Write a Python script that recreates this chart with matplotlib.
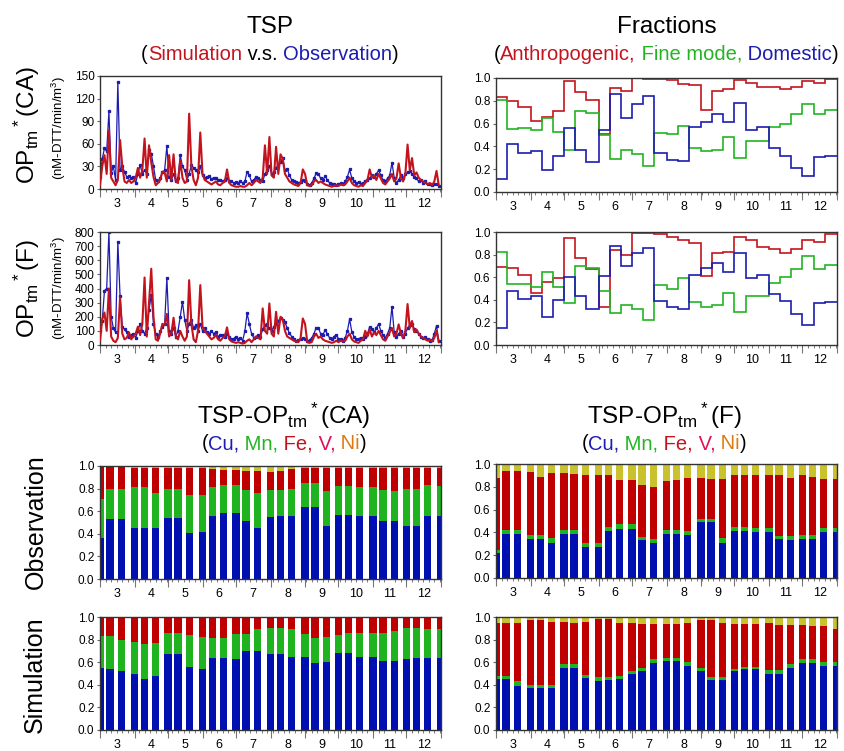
import numpy as np
import matplotlib
matplotlib.use("Agg")
import matplotlib.pyplot as plt

plt.rcParams["font.family"] = ["Liberation Sans", "DejaVu Sans"]
plt.rcParams["mathtext.fontset"] = "custom"
plt.rcParams["mathtext.rm"] = "Liberation Sans"
plt.rcParams["mathtext.it"] = "Liberation Sans:italic"
plt.rcParams["mathtext.bf"] = "Liberation Sans:bold"

# months March..December, days counted from 1 March
month_days = [31, 30, 31, 30, 31, 31, 30, 31, 30, 31]
month_labels = ["3", "4", "5", "6", "7", "8", "9", "10", "11", "12"]

# daily series sampled every 2 days (day 0 .. 304)
ca_obs = [16, 40, 54, 50, 103, 21, 30, 12, 142, 25,
          30, 23, 16, 17, 14, 16, 8, 20, 32, 20,
          25, 20, 52, 47, 30, 12, 10, 15, 22, 25,
          57, 16, 12, 20, 10, 15, 45, 30, 25, 12,
          20, 32, 28, 25, 22, 30, 18, 15, 16, 17,
          13, 15, 14, 12, 12, 10, 12, 14, 10, 10,
          8, 9, 8, 10, 8, 10, 23, 18, 10, 12,
          16, 14, 12, 10, 20, 25, 30, 20, 22, 28,
          32, 36, 41, 25, 27, 18, 12, 10, 9, 8,
          9, 12, 10, 6, 5, 8, 14, 21, 20, 14,
          12, 17, 12, 8, 6, 7, 5, 6, 8, 7,
          10, 16, 26, 14, 10, 8, 9, 7, 8, 10,
          12, 14, 18, 16, 20, 25, 18, 12, 10, 14,
          18, 35, 15, 8, 12, 18, 14, 20, 22, 24,
          20, 16, 14, 10, 12, 8, 10, 7, 6, 5,
          6, 7, 4]
ca_sim = [5, 30, 45, 20, 78, 15, 10, 5, 12, 65,
          30, 10, 8, 12, 8, 10, 15, 28, 15, 25,
          67, 15, 58, 35, 16, 5, 8, 12, 23, 22,
          10, 45, 12, 46, 10, 8, 38, 15, 8, 10,
          100, 30, 12, 5, 15, 75, 20, 12, 10, 8,
          6, 8, 10, 6, 5, 8, 10, 26, 8, 5,
          4, 3, 3, 4, 3, 3, 5, 8, 5, 8,
          12, 10, 8, 15, 58, 20, 69, 18, 15, 56,
          20, 46, 40, 20, 15, 10, 8, 6, 5, 4,
          8, 26, 20, 5, 4, 5, 10, 12, 8, 10,
          8, 6, 5, 4, 3, 4, 5, 4, 6, 5,
          6, 10, 15, 8, 5, 4, 3, 5, 4, 8,
          12, 26, 15, 18, 12, 20, 14, 8, 6, 10,
          14, 20, 10, 14, 34, 15, 10, 20, 59, 25,
          41, 18, 22, 15, 12, 10, 8, 6, 8, 5,
          10, 24, 5]
f_obs = [100, 170, 385, 400, 800, 200, 120, 90, 730, 345,
         130, 110, 90, 60, 70, 80, 50, 100, 150, 100,
         80, 120, 250, 353, 150, 80, 60, 100, 130, 150,
         475, 100, 80, 120, 60, 100, 200, 306, 180, 100,
         150, 180, 120, 140, 100, 150, 100, 120, 90, 80,
         100, 80, 90, 60, 70, 70, 60, 80, 55, 40,
         45, 60, 40, 50, 30, 100, 224, 150, 80, 50,
         60, 70, 60, 110, 140, 150, 120, 100, 130, 150,
         170, 193, 180, 160, 120, 83, 60, 40, 30, 35,
         40, 50, 40, 28, 35, 50, 80, 123, 120, 80,
         70, 106, 80, 50, 40, 60, 71, 45, 40, 30,
         50, 100, 184, 90, 60, 40, 45, 50, 40, 60,
         80, 130, 110, 90, 120, 149, 100, 70, 50, 80,
         120, 271, 90, 60, 80, 100, 60, 80, 120, 140,
         150, 110, 100, 80, 60, 50, 60, 40, 30, 35,
         80, 137, 30]
f_sim = [30, 180, 230, 100, 400, 60, 30, 20, 50, 336,
         80, 40, 50, 90, 40, 60, 80, 130, 70, 150,
         478, 60, 300, 540, 200, 40, 30, 80, 150, 140,
         220, 60, 80, 193, 60, 40, 100, 60, 30, 60,
         459, 150, 40, 20, 100, 424, 130, 100, 80, 60,
         40, 50, 70, 40, 30, 50, 60, 125, 40, 25,
         20, 15, 20, 15, 10, 15, 30, 40, 20, 40,
         60, 50, 40, 259, 100, 80, 294, 80, 60, 235,
         80, 200, 180, 100, 60, 50, 40, 30, 25, 20,
         50, 188, 150, 20, 15, 20, 60, 80, 50, 60,
         40, 30, 25, 20, 15, 20, 30, 20, 30, 25,
         30, 60, 80, 40, 25, 20, 15, 30, 40, 100,
         60, 110, 60, 90, 70, 100, 70, 40, 30, 60,
         90, 120, 60, 80, 146, 80, 50, 100, 290, 120,
         170, 90, 110, 80, 60, 50, 40, 30, 40, 25,
         50, 100, 20]

# ten-day fractions (30 periods)
ca_anthro = [0.83, 0.80, 0.75, 0.62, 0.66, 0.71, 0.97, 0.88, 0.81, 0.51,
             0.91, 0.89, 1.00, 0.99, 0.99, 0.98, 0.95, 0.94, 0.72, 0.89,
             0.90, 0.98, 0.96, 0.92, 0.92, 0.90, 0.92, 0.97, 0.96, 0.99]
ca_fine = [0.81, 0.55, 0.56, 0.54, 0.65, 0.53, 0.37, 0.71, 0.69, 0.50,
           0.29, 0.37, 0.33, 0.23, 0.52, 0.51, 0.58, 0.39, 0.36, 0.37,
           0.48, 0.30, 0.45, 0.45, 0.57, 0.60, 0.68, 0.77, 0.68, 0.72]
ca_domestic = [0.11, 0.42, 0.34, 0.36, 0.19, 0.32, 0.56, 0.37, 0.26, 0.54,
               0.86, 0.65, 0.77, 0.84, 0.34, 0.28, 0.27, 0.57, 0.61, 0.68,
               0.61, 0.78, 0.54, 0.57, 0.39, 0.32, 0.21, 0.14, 0.31, 0.32]
f_anthro = [0.69, 0.68, 0.62, 0.46, 0.56, 0.59, 0.95, 0.77, 0.67, 0.34,
            0.84, 0.80, 0.99, 0.99, 0.98, 0.96, 0.93, 0.90, 0.61, 0.81,
            0.82, 0.96, 0.93, 0.87, 0.85, 0.81, 0.85, 0.93, 0.91, 0.98]
f_fine = [0.82, 0.54, 0.54, 0.51, 0.65, 0.51, 0.37, 0.70, 0.68, 0.48,
          0.28, 0.35, 0.32, 0.22, 0.53, 0.50, 0.59, 0.38, 0.34, 0.35,
          0.46, 0.29, 0.43, 0.43, 0.55, 0.60, 0.67, 0.79, 0.67, 0.71]
f_domestic = [0.15, 0.48, 0.41, 0.43, 0.25, 0.40, 0.60, 0.43, 0.32, 0.61,
              0.88, 0.70, 0.81, 0.86, 0.39, 0.34, 0.32, 0.62, 0.68, 0.73,
              0.65, 0.81, 0.59, 0.62, 0.45, 0.39, 0.27, 0.18, 0.37, 0.38]

# metal contributions, cumulative tops (Cu, Cu+Mn, Cu+Mn+Fe), 31 bars
obs_ca_cu = [0.36, 0.53, 0.53, 0.45, 0.45, 0.45, 0.54, 0.54, 0.41, 0.42, 0.56,
             0.58, 0.58, 0.51, 0.45, 0.55, 0.56, 0.56, 0.635, 0.635, 0.47,
             0.57, 0.57, 0.56, 0.56, 0.51, 0.51, 0.47, 0.47, 0.56, 0.56]
obs_ca_mn = [0.71, 0.80, 0.80, 0.81, 0.81, 0.76, 0.80, 0.80, 0.74, 0.74, 0.81,
             0.83, 0.83, 0.79, 0.76, 0.79, 0.79, 0.80, 0.85, 0.85, 0.78,
             0.82, 0.82, 0.81, 0.81, 0.79, 0.78, 0.80, 0.80, 0.83, 0.82]
obs_ca_fe = [0.99, 0.99, 0.99, 0.985, 0.985, 0.985, 0.985, 0.985, 0.98, 0.98, 0.975,
             0.965, 0.965, 0.96, 0.955, 0.95, 0.955, 0.975, 0.985, 0.985, 0.98,
             0.985, 0.985, 0.985, 0.985, 0.985, 0.985, 0.985, 0.985, 0.985, 0.985]
sim_ca_cu = [0.55, 0.54, 0.52, 0.50, 0.45, 0.48, 0.675, 0.675, 0.56, 0.54, 0.64,
             0.64, 0.63, 0.695, 0.695, 0.67, 0.67, 0.65, 0.65, 0.59, 0.60,
             0.68, 0.68, 0.65, 0.645, 0.61, 0.615, 0.63, 0.635, 0.635, 0.635]
sim_ca_mn = [0.83, 0.83, 0.80, 0.78, 0.76, 0.77, 0.86, 0.86, 0.84, 0.82, 0.81,
             0.81, 0.85, 0.85, 0.89, 0.90, 0.90, 0.89, 0.85, 0.81, 0.82,
             0.84, 0.86, 0.86, 0.86, 0.86, 0.88, 0.90, 0.90, 0.89, 0.89]
sim_ca_fe = [0.99] * 31
obs_f_cu = [0.22, 0.39, 0.39, 0.345, 0.345, 0.31, 0.39, 0.39, 0.27, 0.27, 0.415,
            0.43, 0.43, 0.33, 0.31, 0.39, 0.39, 0.38, 0.49, 0.49, 0.31,
            0.415, 0.415, 0.40, 0.40, 0.34, 0.33, 0.34, 0.34, 0.40, 0.40]
obs_f_mn = [0.25, 0.42, 0.42, 0.38, 0.38, 0.35, 0.42, 0.42, 0.31, 0.31, 0.445,
            0.47, 0.47, 0.36, 0.34, 0.42, 0.42, 0.41, 0.52, 0.52, 0.35,
            0.445, 0.445, 0.44, 0.44, 0.37, 0.365, 0.375, 0.375, 0.44, 0.44]
obs_f_fe = [0.88, 0.94, 0.94, 0.93, 0.89, 0.92, 0.92, 0.91, 0.905, 0.905, 0.905,
            0.86, 0.86, 0.82, 0.80, 0.85, 0.86, 0.88, 0.88, 0.87, 0.87,
            0.90, 0.90, 0.90, 0.90, 0.90, 0.88, 0.90, 0.89, 0.87, 0.87]
sim_f_cu = [0.45, 0.45, 0.39, 0.37, 0.37, 0.37, 0.55, 0.55, 0.46, 0.435, 0.445,
            0.45, 0.50, 0.52, 0.59, 0.61, 0.61, 0.57, 0.52, 0.445, 0.445,
            0.52, 0.54, 0.54, 0.50, 0.50, 0.55, 0.59, 0.59, 0.57, 0.57]
sim_f_mn = [0.48, 0.48, 0.43, 0.40, 0.40, 0.40, 0.58, 0.58, 0.49, 0.47, 0.47,
            0.48, 0.52, 0.55, 0.63, 0.64, 0.64, 0.60, 0.55, 0.47, 0.47,
            0.54, 0.56, 0.56, 0.53, 0.53, 0.58, 0.63, 0.63, 0.60, 0.60]
sim_f_fe = [0.95, 0.95, 0.95, 0.97, 0.97, 0.96, 0.96, 0.95, 0.955, 0.98, 0.98,
            0.95, 0.95, 0.94, 0.94, 0.94, 0.94, 0.95, 0.97, 0.97, 0.95,
            0.94, 0.94, 0.94, 0.95, 0.93, 0.93, 0.93, 0.92, 0.92, 0.89]

RED = "#c3141e"
BLUE = "#1c1cb0"
GREEN = "#22b422"
BAR_BLUE = "#0010b0"
BAR_GREEN = "#1fb41f"
BAR_RED = "#c00000"
BAR_TOP = "#c9c22c"

month_start = np.concatenate([[0], np.cumsum(month_days)[:-1]])
month_end = np.cumsum(month_days)
month_mid = month_start + np.array(month_days) / 2.0
ndays = month_end[-1]
days = np.arange(0, 306, 2)
step_edges = np.append(np.concatenate([[s, s + 10, s + 20] for s in month_start]), ndays)
bar_x = np.append(np.concatenate([[s, s + 9, s + 19] for s in month_start]), ndays)

fig = plt.figure(figsize=(8.44, 7.51), dpi=100)
W, H = 844.0, 751.0


def add_ax(x0, y0, x1, y1):
    return fig.add_axes([x0 / W, 1 - y1 / H, (x1 - x0) / W, (y1 - y0) / H])


def style(ax, ymax, ystep, fmt):
    ax.set_xlim(0, ndays)
    ax.set_ylim(0, ymax)
    ax.set_yticks(np.arange(0, ymax + ystep / 2, ystep))
    ax.set_yticklabels([fmt % v for v in np.arange(0, ymax + ystep / 2, ystep)])
    ax.set_xticks(month_mid)
    ax.set_xticklabels(month_labels)
    ax.set_xticks(np.arange(0, ndays, 5), minor=True)
    ax.tick_params(axis="x", which="major", length=0, pad=6.5, labelsize=9)
    ax.tick_params(axis="x", which="minor", length=2, color="#666666")
    ax.tick_params(axis="y", length=2, pad=2, labelsize=8.5, color="#666666")
    for sp in ax.spines.values():
        sp.set_color("#333333")
        sp.set_linewidth(1.0)
    sec = ax.secondary_xaxis("bottom")
    sec.set_xticks(np.append(month_start, ndays))
    sec.set_xticklabels([])
    sec.tick_params(length=6, color="#777777")
    sec.spines["bottom"].set_visible(False)


# time series panels
for (y0, y1), obs, sim, ymax, ystep in [((76, 189), ca_obs, ca_sim, 150, 30),
                                        ((232, 345), f_obs, f_sim, 800, 100)]:
    ax = add_ax(100, y0, 441, y1)
    ax.plot(days, obs, color=BLUE, lw=0.9, marker="s", ms=1.4, zorder=2)
    ax.plot(days, sim, color=RED, lw=1.5, zorder=3)
    style(ax, ymax, ystep, "%d")

# fraction panels
for (y0, y1), an, fi, do in [((78, 192), ca_anthro, ca_fine, ca_domestic),
                             ((232, 345), f_anthro, f_fine, f_domestic)]:
    ax = add_ax(496, y0, 837, y1)
    ax.stairs(an, step_edges, color=RED, lw=1.2, baseline=None)
    ax.stairs(fi, step_edges, color=GREEN, lw=1.2, baseline=None)
    ax.stairs(do, step_edges, color=BLUE, lw=1.2, baseline=None)
    style(ax, 1.0, 0.2, "%.1f")

# stacked bar panels
bar_sets = [((100, 441, 466, 579), obs_ca_cu, obs_ca_mn, obs_ca_fe),
            ((100, 441, 617, 730), sim_ca_cu, sim_ca_mn, sim_ca_fe),
            ((496, 837, 464, 578), obs_f_cu, obs_f_mn, obs_f_fe),
            ((496, 837, 617, 730), sim_f_cu, sim_f_mn, sim_f_fe)]
for (x0, x1, y0, y1), cu, mn, fe in bar_sets:
    ax = add_ax(x0, y0, x1, y1)
    cu = np.array(cu)
    mn = np.array(mn)
    fe = np.array(fe)
    w = 6.5
    ax.bar(bar_x, cu, width=w, color=BAR_BLUE)
    ax.bar(bar_x, mn - cu, bottom=cu, width=w, color=BAR_GREEN)
    ax.bar(bar_x, fe - mn, bottom=mn, width=w, color=BAR_RED)
    ax.bar(bar_x, 1 - fe, bottom=fe, width=w, color=BAR_TOP)
    style(ax, 1.0, 0.2, "%.1f")

renderer = fig.canvas.get_renderer()


def text_width(s, size):
    t = fig.text(0, 0, s + "|", fontsize=size)
    t2 = fig.text(0, 0, "|", fontsize=size)
    w = t.get_window_extent(renderer).width - t2.get_window_extent(renderer).width
    t.remove()
    t2.remove()
    return w


def multicolor(xc, yb, parts, size):
    full = "".join(s for s, c in parts)
    total = text_width(full, size)
    x = xc - total / 2
    prefix = ""
    for s, c in parts:
        off = text_width(prefix, size) if prefix else 0.0
        fig.text((x + off) / W, 1 - yb / H, s, color=c, fontsize=size, va="baseline")
        prefix += s


TS = 17.5
SS = 14.5
fig.text(270 / W, 1 - 33 / H, "TSP", fontsize=TS, ha="center", va="baseline")
multicolor(270, 60, [("(", "black"), ("Simulation", RED), (" v.s. ", "black"),
                     ("Observation", BLUE), (")", "black")], SS)
fig.text(667 / W, 1 - 33 / H, "Fractions", fontsize=TS, ha="center", va="baseline")
multicolor(666, 60, [("(", "black"), ("Anthropogenic,", RED), (" Fine mode,", GREEN),
                     (" Domestic", BLUE), (")", "black")], SS)

elem_parts = [("(", "black"), ("Cu,", BLUE), (" Mn,", GREEN), (" Fe,", RED),
              (" V,", "#e0105a"), (" Ni", "#e07a10"), (")", "black")]
fig.text(284 / W, 1 - 424 / H, r"TSP-OP$_\mathrm{tm}$$^*$(CA)", fontsize=TS,
         ha="center", va="baseline")
multicolor(284, 449, elem_parts, SS)
fig.text(664 / W, 1 - 424 / H, r"TSP-OP$_\mathrm{tm}$$^*$(F)", fontsize=TS,
         ha="center", va="baseline")
multicolor(664, 449, elem_parts, SS)

fig.text(27 / W, 1 - 125 / H, r"OP$_\mathrm{tm}$$^*$(CA)", fontsize=TS, rotation=90,
         ha="center", va="center")
fig.text(59 / W, 1 - 128 / H, r"(nM-DTT/min/m$^3$)", fontsize=9.5, rotation=90,
         ha="center", va="center")
fig.text(27 / W, 1 - 288 / H, r"OP$_\mathrm{tm}$$^*$(F)", fontsize=TS, rotation=90,
         ha="center", va="center")
fig.text(59 / W, 1 - 288 / H, r"(nM-DTT/min/m$^3$)", fontsize=9.5, rotation=90,
         ha="center", va="center")
fig.text(36 / W, 1 - 522 / H, "Observation", fontsize=18, rotation=90,
         ha="center", va="center")
fig.text(35 / W, 1 - 675 / H, "Simulation", fontsize=18, rotation=90,
         ha="center", va="center")

fig.savefig("out.png", dpi=100)
